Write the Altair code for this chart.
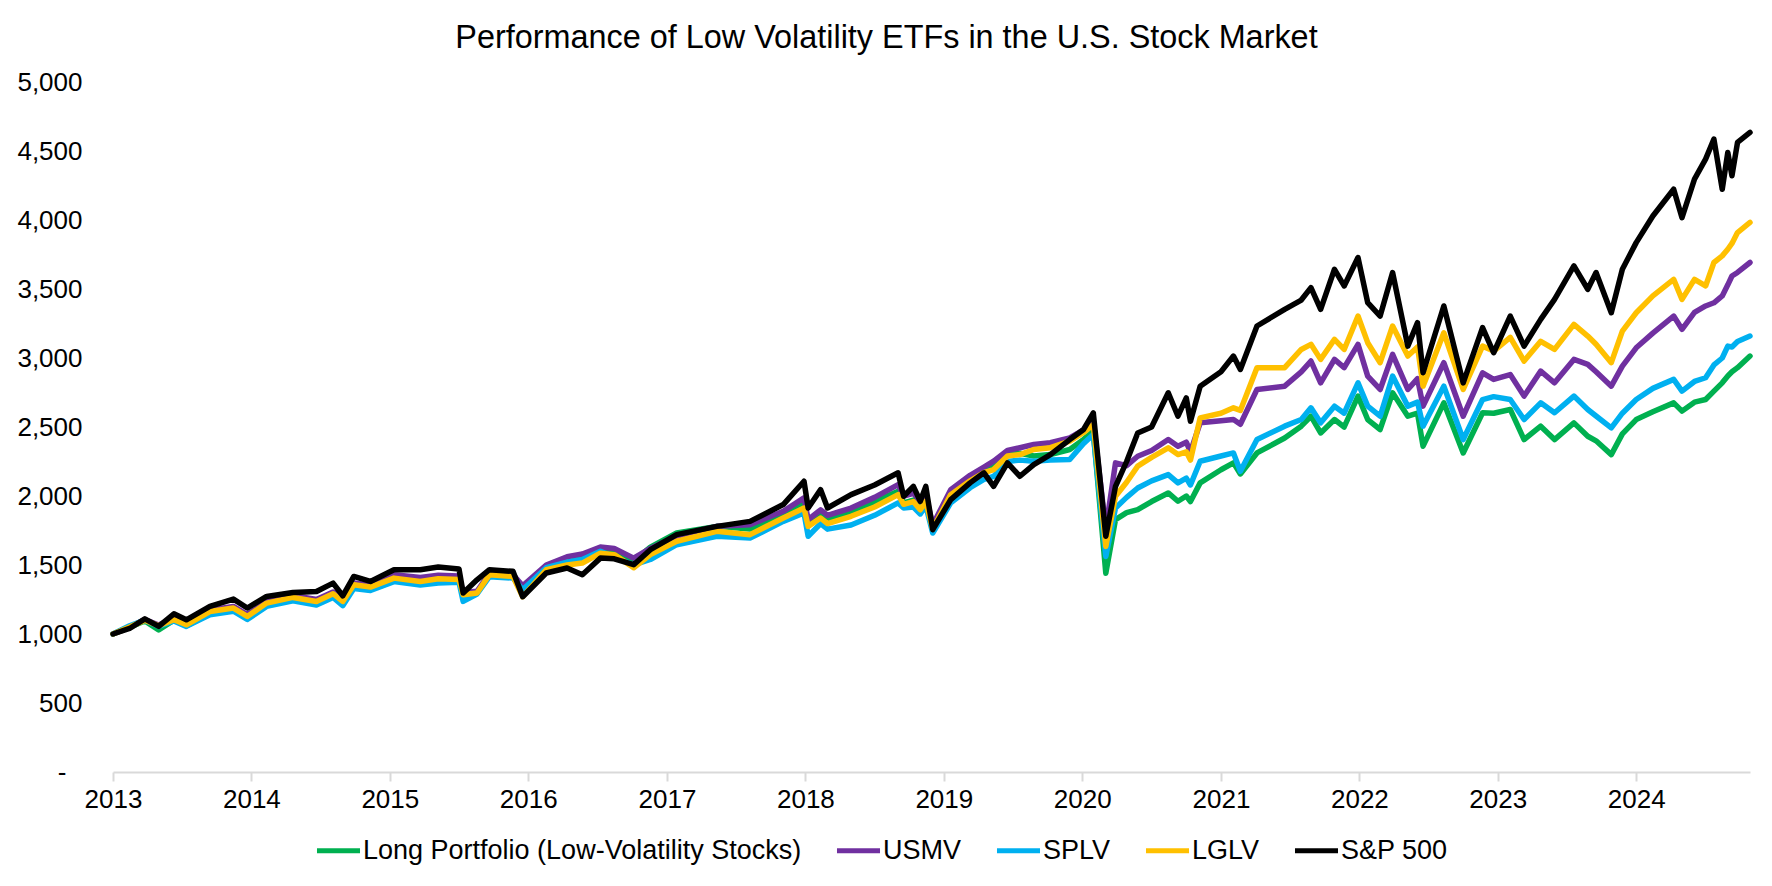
import altair as alt
import pandas as pd

# Fractional-year positions of the points
years = [
    2013.00, 2013.12, 2013.23, 2013.33, 2013.44, 2013.53, 2013.70, 2013.87, 2013.97, 2014.11,
    2014.30, 2014.47, 2014.59, 2014.66, 2014.74, 2014.86, 2015.03, 2015.22, 2015.35, 2015.50,
    2015.53, 2015.63, 2015.72, 2015.89, 2015.96, 2016.13, 2016.28, 2016.39, 2016.52, 2016.62,
    2016.76, 2016.88, 2017.07, 2017.36, 2017.60, 2017.84, 2017.99, 2018.02, 2018.11, 2018.16,
    2018.33, 2018.50, 2018.67, 2018.71, 2018.78, 2018.83, 2018.87, 2018.92, 2019.05, 2019.19,
    2019.29, 2019.36, 2019.46, 2019.55, 2019.65, 2019.77, 2019.91, 2020.01, 2020.08, 2020.17,
    2020.24, 2020.32, 2020.40, 2020.50, 2020.62, 2020.69, 2020.75, 2020.78, 2020.85, 2021.00,
    2021.09, 2021.14, 2021.26, 2021.46, 2021.58, 2021.65, 2021.72, 2021.82, 2021.89, 2021.99,
    2022.06, 2022.15, 2022.24, 2022.35, 2022.42, 2022.46, 2022.61, 2022.75, 2022.89, 2022.97,
    2023.09, 2023.19, 2023.31, 2023.41, 2023.55, 2023.65, 2023.71, 2023.82, 2023.90, 2024.00,
    2024.12, 2024.27, 2024.33, 2024.42, 2024.50, 2024.56, 2024.62, 2024.66, 2024.69, 2024.73,
    2024.82,
]

sp500 = [
    1000, 1040, 1110, 1055, 1146, 1103, 1200, 1253, 1188, 1272,
    1301, 1308, 1369, 1277, 1417, 1381, 1466, 1466, 1485, 1471,
    1297, 1393, 1466, 1454, 1270, 1442, 1478, 1430, 1550, 1545,
    1502, 1611, 1720, 1780, 1816, 1938, 2107, 1913, 2046, 1913,
    2010, 2080, 2168, 1998, 2070, 1962, 2070, 1756, 1974, 2095,
    2168, 2070, 2240, 2143, 2228, 2300, 2409, 2482, 2603, 1708,
    2070, 2250, 2457, 2500, 2748, 2578, 2711, 2541, 2796, 2900,
    3014, 2917, 3232, 3353, 3420, 3510, 3353, 3643, 3522, 3728,
    3401, 3304, 3619, 3086, 3256, 2893, 3377, 2820, 3220, 3038,
    3304, 3086, 3280, 3425, 3667, 3498, 3619, 3328, 3643, 3836,
    4029, 4223, 4017, 4296, 4441, 4586, 4223, 4489, 4320, 4562,
    4635,
]

lglv = [
    1000, 1050, 1100, 1060, 1103, 1067, 1163, 1188, 1127, 1224,
    1265, 1236, 1292, 1236, 1357, 1340, 1405, 1381, 1400, 1395,
    1284, 1297, 1430, 1417, 1270, 1466, 1500, 1514, 1586, 1575,
    1480, 1575, 1672, 1744, 1720, 1840, 1913, 1780, 1840, 1800,
    1853, 1920, 2010, 1940, 1960, 1900, 1960, 1760, 2010, 2110,
    2170, 2192, 2290, 2300, 2337, 2350, 2397, 2460, 2518, 1635,
    1998, 2100, 2216, 2280, 2349, 2300, 2320, 2260, 2566, 2600,
    2639, 2620, 2930, 2930, 3062, 3099, 2990, 3135, 3062, 3304,
    3111, 2966, 3232, 3014, 3080, 2796, 3183, 2772, 3086, 3050,
    3150, 2978, 3121, 3062, 3244, 3159, 3100, 2966, 3195, 3328,
    3450, 3570, 3425, 3570, 3522, 3692, 3740, 3788, 3830, 3909,
    3982,
]

usmv = [
    1000, 1050, 1105, 1065, 1115, 1080, 1175, 1200, 1140, 1235,
    1280, 1250, 1305, 1250, 1370, 1355, 1430, 1410, 1425, 1420,
    1300, 1310, 1440, 1430, 1350, 1500, 1560, 1580, 1630, 1620,
    1550, 1620, 1710, 1780, 1792, 1889, 1986, 1828, 1900, 1860,
    1913, 1990, 2083, 2000, 2020, 1960, 2010, 1790, 2046, 2150,
    2210, 2252, 2330, 2350, 2373, 2386, 2421, 2480, 2542, 1760,
    2240, 2220, 2288, 2330, 2409, 2360, 2390, 2320, 2530, 2545,
    2554, 2520, 2772, 2796, 2900, 2978, 2820, 2990, 2930, 3099,
    2869, 2772, 3026, 2772, 2850, 2651, 2966, 2578, 2893, 2845,
    2880, 2724, 2905, 2820, 2990, 2954, 2900, 2796, 2941, 3074,
    3180, 3304, 3208, 3330, 3377, 3400, 3450, 3530, 3594, 3620,
    3692,
]

splv = [
    1000, 1060, 1100, 1055, 1095, 1055, 1140, 1165, 1105, 1200,
    1240, 1210, 1265, 1205, 1330, 1315, 1380, 1355, 1370, 1375,
    1236, 1290, 1415, 1405, 1320, 1480, 1520, 1540, 1600, 1560,
    1500, 1540, 1647, 1708, 1695, 1816, 1877, 1708, 1800, 1760,
    1790, 1860, 1950, 1913, 1920, 1870, 1930, 1732, 1950, 2060,
    2120, 2143, 2250, 2260, 2252, 2260, 2264, 2380, 2446, 1562,
    1913, 1990, 2058, 2110, 2155, 2095, 2130, 2080, 2252, 2290,
    2312, 2179, 2409, 2506, 2554, 2639, 2530, 2651, 2600, 2820,
    2651, 2578, 2869, 2651, 2680, 2506, 2796, 2409, 2699, 2720,
    2699, 2554, 2675, 2603, 2724, 2627, 2580, 2494, 2600, 2699,
    2780, 2845, 2760, 2830, 2857, 2950, 3000, 3086, 3080, 3120,
    3159,
]

long_portfolio = [
    1000, 1050, 1095, 1030, 1100, 1060, 1150, 1175, 1115, 1210,
    1255, 1225, 1280, 1220, 1345, 1330, 1395, 1370, 1385, 1390,
    1280, 1300, 1425, 1415, 1320, 1480, 1520, 1545, 1610, 1600,
    1530, 1630, 1732, 1780, 1760, 1860, 1950, 1800, 1870, 1830,
    1880, 1960, 2034, 1950, 1970, 1920, 1980, 1770, 2020, 2120,
    2180, 2210, 2300, 2310, 2290, 2300, 2337, 2410, 2470, 1441,
    1829, 1880, 1901, 1960, 2022, 1962, 2000, 1960, 2095, 2190,
    2240, 2160, 2312, 2420, 2506, 2578, 2457, 2554, 2500, 2724,
    2554, 2482, 2748, 2578, 2600, 2361, 2675, 2312, 2603, 2600,
    2627, 2409, 2506, 2409, 2530, 2433, 2400, 2300, 2450, 2554,
    2610, 2675, 2615, 2680, 2699, 2760, 2820, 2870, 2900, 2930,
    3014,
]

series_names = ["Long Portfolio (Low-Volatility Stocks)", "USMV", "SPLV", "LGLV", "S&P 500"]
series_values = [long_portfolio, usmv, splv, lglv, sp500]
colors = ["#00B050", "#7030A0", "#00B0F0", "#FFC000", "#000000"]
y_ticks = [0, 500, 1000, 1500, 2000, 2500, 3000, 3500, 4000, 4500, 5000]


def to_date(fy):
    yr = int(fy + 1e-9)
    start = pd.Timestamp(year=yr, month=1, day=1)
    end = pd.Timestamp(year=yr + 1, month=1, day=1)
    return (start + (end - start) * (fy - yr)).strftime("%Y-%m-%dT%H:%M:%S")


rows = []
for name, vals in zip(series_names, series_values):
    for fy, v in zip(years, vals):
        rows.append({"date": to_date(fy), "value": v, "series": name})
df = pd.DataFrame(rows)

FONT = "Liberation Sans"

color_scale = alt.Scale(domain=series_names, range=colors)

base = alt.Chart(df).encode(
    x=alt.X(
        "date:T",
        title=None,
        scale=alt.Scale(nice=False),
        axis=alt.Axis(
            format="%Y",
            tickCount={"interval": "year", "step": 1},
            grid=False,
            domainColor="#D9D9D9",
            domainWidth=2,
            ticks=True,
            tickColor="#D9D9D9",
            tickWidth=2,
            tickSize=9,
            labelPadding=5,
            labelFlush=False,
            labelFont=FONT,
            labelFontSize=26,
            labelColor="#000000",
        ),
    ),
    y=alt.Y(
        "value:Q",
        title=None,
        scale=alt.Scale(domain=[0, 5000], nice=False, zero=True),
        axis=alt.Axis(
            values=y_ticks,
            labelExpr="datum.value == 0 ? '-' : format(datum.value, ',')",
            grid=False,
            domain=False,
            ticks=False,
            tickSize=0,
            labelPadding={"condition": {"test": "datum.value == 0", "value": 47}, "value": 31},
            labelFont=FONT,
            labelFontSize=26,
            labelColor="#000000",
        ),
    ),
    color=alt.Color(
        "series:N",
        scale=color_scale,
        sort=series_names,
        legend=alt.Legend(
            title=None,
            orient="none",
            direction="horizontal",
            legendX=201,
            legendY=744,
            symbolType="stroke",
            symbolSize=1850,
            symbolStrokeWidth=5,
            labelFont=FONT,
            labelFontSize=27,
            labelColor="#000000",
            labelLimit=0,
            labelOffset=0,
            columnPadding=24,
            padding=0,
        ),
    ),
)

layers = [
    base.transform_filter(alt.datum.series == name).mark_line(
        strokeWidth=5.5, strokeJoin="round", strokeCap="round"
    )
    for name in series_names
]

chart = (
    alt.layer(*layers)
    .properties(
        width=1637,
        height=690,
        padding={"left": 113, "top": 82, "right": 22, "bottom": 114},
        autosize=alt.AutoSizeParams(type="none"),
        title=alt.TitleParams(
            text="Performance of Low Volatility ETFs in the U.S. Stock Market",
            font=FONT,
            fontSize=32.4,
            fontWeight="normal",
            color="#000000",
            anchor="middle",
            baseline="bottom",
            offset=16,
            dx=-45,
            dy=34,
        ),
        background="#FFFFFF",
    )
    .configure_view(stroke=None)
)

chart.save("out.html", embed_options={"renderer": "svg", "actions": False})
